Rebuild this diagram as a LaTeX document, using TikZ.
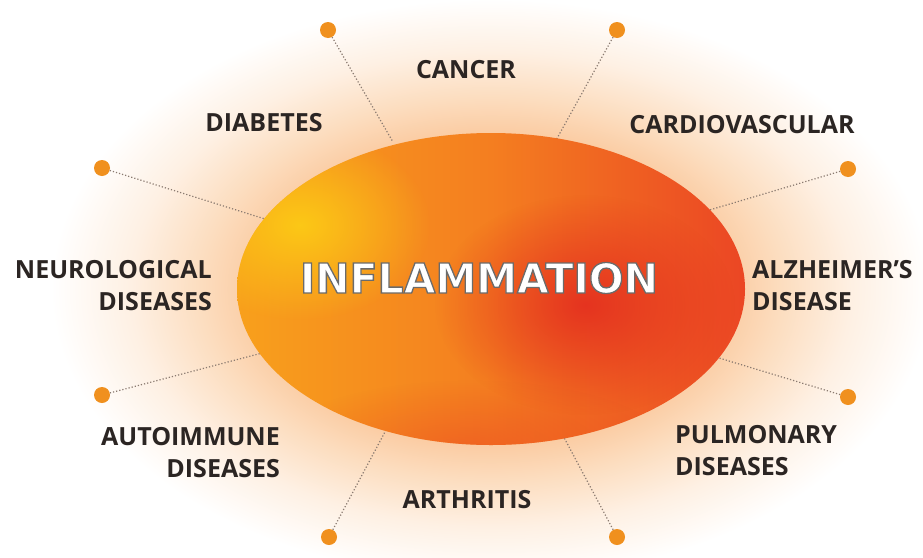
\documentclass[tikz,border=0pt]{standalone}
\usepackage{fontspec}
\setmainfont{Open Sans}
\newfontfamily\titlefont{DejaVu Sans}
\usetikzlibrary{fadings}
\tikzfading[name=softblob, inner color=transparent!0, outer color=transparent!100]
\definecolor{glowA}{HTML}{FBCCA3}
\definecolor{glowB}{HTML}{FCDDBF}
\definecolor{glowC}{HTML}{FEF0E3}
\pgfdeclareradialshading{glowshade}{\pgfpoint{0bp}{0bp}}{color(0bp)=(glowA); color(13.5bp)=(glowA); color(16.5bp)=(glowB); color(20.5bp)=(glowC); color(25bp)=(white); color(50bp)=(white)}
\definecolor{labelc}{HTML}{2B2523}
\definecolor{dotc}{HTML}{F0901E}
\definecolor{linec}{HTML}{8A7A70}
\definecolor{ellL}{HTML}{F8A01C}
\definecolor{ellR}{HTML}{EB4624}
\definecolor{ellY}{HTML}{FCC816}
\definecolor{ellRed}{HTML}{E2261F}
\definecolor{ellMid}{HTML}{F47E20}
\tikzset{
  lbl/.style={inner sep=0pt, font=\bfseries\fontsize{25}{32}\selectfont, text=labelc},
  dotn/.style={circle, fill=dotc, minimum size=16pt, inner sep=0pt},
  conn/.style={linec, line width=1.2pt, dotted},
}
\begin{document}
\begin{tikzpicture}[x=1pt,y=-1pt]
\useasboundingbox (0,0) rectangle (923,557);
\fill[white] (0,0) rectangle (923,557);
% glow
\begin{scope}
\clip (0,0) rectangle (923,557);
\shade[shading=glowshade] (51,-1) rectangle (931,579);
\end{scope}
% dots
\node[dotn] (d1) at (328,30) {};
\node[dotn] (d2) at (617,30) {};
\node[dotn] (d3) at (102,168) {};
\node[dotn] (d4) at (848,169) {};
\node[dotn] (d5) at (102,395) {};
\node[dotn] (d6) at (848,397) {};
\node[dotn] (d7) at (329,537) {};
\node[dotn] (d8) at (617,537) {};
% ellipse edge points
\coordinate (e1) at (393,142);
\coordinate (e2) at (555,142);
\coordinate (e3) at (265,219);
\coordinate (e4) at (696,214);
\coordinate (e5) at (266,352);
\coordinate (e6) at (696,351);
\coordinate (e7) at (386,430);
\coordinate (e8) at (560,430);
\foreach \i in {1,...,8}{ \draw[conn] (d\i) -- (e\i); }
% main ellipse
\begin{scope}
\clip (491,289) ellipse (254 and 156);
\shade[left color=ellL, right color=ellR, middle color=ellMid] (237,133) rectangle (745,445);
\fill[ellY, path fading=softblob] (300,225) ellipse (130 and 95);
\fill[ellRed, path fading=softblob, opacity=0.8] (585,305) ellipse (150 and 110);
\fill[ellR, path fading=softblob, opacity=0.5] (470,450) ellipse (200 and 70);
\end{scope}
\node[inner sep=0pt, font=\titlefont\bfseries\fontsize{41}{41}\selectfont, text=white] (title) at (479,278)
  {\special{pdf:literal direct 2 Tr 1.3 w 0.42 0.42 0.42 RG}INFLAMMATION\special{pdf:literal direct 0 Tr}};
% labels
\node[lbl, anchor=north] (cancer) at (466,60) {CANCER};
\node[lbl, anchor=north] (diab) at (264,113) {DIABETES};
\node[lbl, anchor=north] (cardio) at (742,115) {CARDIOVASCULAR};
\node[lbl, anchor=north east, align=right] (neuro) at (212,260) {NEUROLOGICAL\\DISEASES};
\node[lbl, anchor=north west, align=left] (alz) at (752,260) {ALZHEIMER’S\\DISEASE};
\node[lbl, anchor=north east, align=right] (auto) at (280,427) {AUTOIMMUNE\\DISEASES};
\node[lbl, anchor=north west, align=left] (pulm) at (675,425) {PULMONARY\\DISEASES};
\node[lbl, anchor=north] (arth) at (467,490) {ARTHRITIS};
\end{tikzpicture}
\end{document}
